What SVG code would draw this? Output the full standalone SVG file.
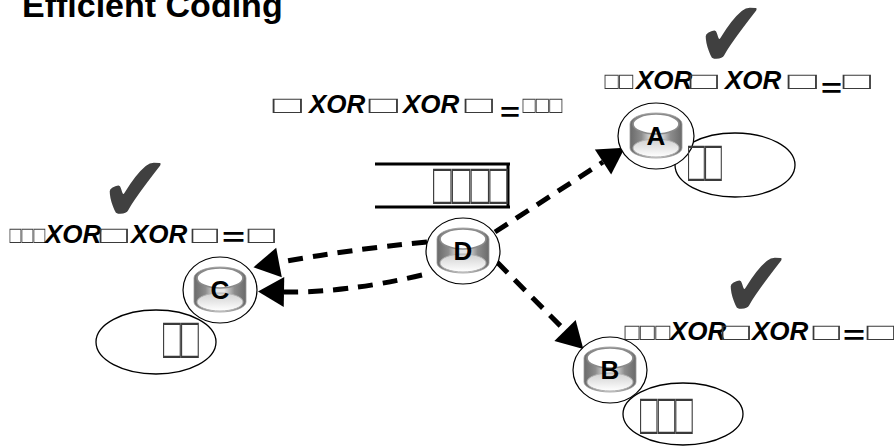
<svg xmlns="http://www.w3.org/2000/svg" width="894" height="446" viewBox="0 0 894 446">
<style>
.title{font-family:"Liberation Sans",Arial,sans-serif;font-weight:bold;font-size:34px;fill:#000}
.xor{font-family:"Liberation Sans",Arial,sans-serif;font-weight:bold;font-style:italic;font-size:26px;fill:#000}
.eq{font-family:"Liberation Sans",Arial,sans-serif;font-weight:bold;font-size:26px;fill:#000}
.tofu{font-family:"DejaVu Sans",sans-serif;font-weight:200;font-size:24px;fill:#3a3a3a;filter:url(#nf)}
.tall{font-family:"DejaVu Sans",sans-serif;font-weight:200;font-size:59px;fill:#3a3a3a;filter:url(#nf)}
.chk{font-family:"DejaVu Sans",sans-serif;font-size:84px;fill:#404040}
.lbl{font-family:"Liberation Sans",Arial,sans-serif;font-weight:bold;font-size:26px;fill:#000;text-anchor:middle}
.ring{fill:#fff;stroke:#000;stroke-width:1.2}
.oval{fill:none;stroke:#000;stroke-width:1.3}
.edge{fill:none;stroke:#000;stroke-width:5;stroke-dasharray:15 10}
.q{stroke:#000;stroke-width:3;fill:none}
</style>
<defs>
<filter id="nf" x="-0.1" y="-0.3" width="1.2" height="1.6"><feOffset dx="0" dy="0"/></filter>
<marker id="ah" markerUnits="userSpaceOnUse" markerWidth="26" markerHeight="30" viewBox="0 0 26 30" refX="0" refY="15" orient="auto" overflow="visible">
<path d="M0,0 L26,15 L0,30 z" fill="#000"/>
</marker>
<linearGradient id="gb" x1="0" y1="0" x2="1" y2="0">
<stop offset="0" stop-color="#6a6a6a"/>
<stop offset="0.22" stop-color="#8c8c8c"/>
<stop offset="0.42" stop-color="#e6e6e6"/>
<stop offset="0.58" stop-color="#e6e6e6"/>
<stop offset="0.78" stop-color="#8c8c8c"/>
<stop offset="1" stop-color="#6a6a6a"/>
</linearGradient>
<linearGradient id="gl" x1="0" y1="0" x2="0" y2="1">
<stop offset="0" stop-color="#d0d0d0"/>
<stop offset="1" stop-color="#ffffff"/>
</linearGradient>
<g id="icon">
<path d="M-26,-12 L-26,12 A26,10 0 0 0 26,12 L26,-12 A26,11 0 0 0 -26,-12 z" fill="url(#gb)" stroke="#9a9a9a" stroke-width="0.8"/>
<ellipse cx="0" cy="-12" rx="23" ry="10" fill="#fff" stroke="#8a8a8a" stroke-width="1.6"/>
<ellipse cx="0" cy="12" rx="23" ry="9" fill="url(#gl)" stroke="#b0b0b0" stroke-width="1"/>
</g>
</defs>

<text class="title" x="22" y="17">Efficient Coding</text>

<g id="equation-main">
<text class="tofu" x="272.5" y="113" textLength="30" lengthAdjust="spacingAndGlyphs">□</text>
<text class="xor" x="309" y="113">XOR</text>
<text class="tofu" x="368.5" y="113" textLength="30" lengthAdjust="spacingAndGlyphs">□</text>
<text class="xor" x="403" y="113">XOR</text>
<text class="tofu" x="464.5" y="113" textLength="29" lengthAdjust="spacingAndGlyphs">□</text>
<text class="eq" x="500" y="121" textLength="20" lengthAdjust="spacingAndGlyphs">=</text>
<text class="tofu" x="522.5" y="113" textLength="40" lengthAdjust="spacingAndGlyphs">□□□</text>
</g>

<g id="equation-A">
<text class="chk" x="696" y="67" transform="translate(0,67) scale(1,1.12) translate(0,-67)">✔</text>
<text class="tofu" x="604.5" y="89" textLength="29" lengthAdjust="spacingAndGlyphs">□□</text>
<text class="xor" x="636" y="89">XOR</text>
<text class="tofu" x="689.5" y="89" textLength="29" lengthAdjust="spacingAndGlyphs">□</text>
<text class="xor" x="725" y="89">XOR</text>
<text class="tofu" x="787.5" y="89" textLength="30" lengthAdjust="spacingAndGlyphs">□</text>
<text class="eq" x="821" y="97" textLength="21" lengthAdjust="spacingAndGlyphs">=</text>
<text class="tofu" x="842.5" y="89" textLength="29" lengthAdjust="spacingAndGlyphs">□</text>
</g>

<g id="equation-C">
<text class="chk" x="100" y="222" transform="translate(0,222) scale(1,1.12) translate(0,-222)">✔</text>
<text class="tofu" x="9.5" y="243" textLength="36" lengthAdjust="spacingAndGlyphs">□□□</text>
<text class="xor" x="45" y="243">XOR</text>
<text class="tofu" x="99.5" y="243" textLength="29" lengthAdjust="spacingAndGlyphs">□</text>
<text class="xor" x="131" y="243">XOR</text>
<text class="tofu" x="191.5" y="243" textLength="27" lengthAdjust="spacingAndGlyphs">□</text>
<text class="eq" x="222" y="246" textLength="23" lengthAdjust="spacingAndGlyphs">=</text>
<text class="tofu" x="247.5" y="243" textLength="28" lengthAdjust="spacingAndGlyphs">□</text>
</g>

<g id="equation-B">
<text class="chk" x="721" y="317" transform="translate(0,317) scale(1,1.12) translate(0,-317)">✔</text>
<text class="tofu" x="624.5" y="340" textLength="46" lengthAdjust="spacingAndGlyphs">□□□</text>
<text class="xor" x="670" y="340">XOR</text>
<text class="tofu" x="721.5" y="340" textLength="29" lengthAdjust="spacingAndGlyphs">□</text>
<text class="xor" x="752" y="340">XOR</text>
<text class="tofu" x="812.5" y="340" textLength="28" lengthAdjust="spacingAndGlyphs">□</text>
<text class="eq" x="843" y="344" textLength="22" lengthAdjust="spacingAndGlyphs">=</text>
<text class="tofu" x="866.5" y="340" textLength="29" lengthAdjust="spacingAndGlyphs">□</text>
</g>

<g id="queue">
<path class="q" d="M375,164 H510 M375,207 H510 M508,164 V207"/>
<text class="tall" x="433" y="204" textLength="75" lengthAdjust="spacingAndGlyphs">□□□□</text>
</g>

<g id="connectors">
<path class="edge" d="M495,232 L603,162" marker-end="url(#ah)"/>
<path class="edge" d="M497,262 L565,330.5" marker-end="url(#ah)"/>
<path class="edge" d="M427,242 Q345,250 279,262.5" marker-end="url(#ah)"/>
<path class="edge" d="M422,275 Q345,293 284,292" marker-end="url(#ah)"/>
</g>

<g id="store-A">
<ellipse class="oval" cx="735" cy="165" rx="60" ry="32"/>
</g>
<g id="store-C">
<ellipse class="oval" cx="156" cy="342" rx="60" ry="32"/>
</g>
<g id="store-B">
<ellipse class="oval" cx="683" cy="414" rx="60" ry="31"/>
</g>

<g id="node-A">
<ellipse class="ring" cx="656" cy="136" rx="38" ry="33"/>
<use href="#icon" x="656" y="136"/>
<text class="lbl" x="656" y="145">A</text>
</g>
<g id="node-D">
<ellipse class="ring" cx="463" cy="251" rx="37" ry="33"/>
<use href="#icon" x="463" y="251"/>
<text class="lbl" x="463" y="260">D</text>
</g>
<g id="node-C">
<ellipse class="ring" cx="220" cy="290" rx="37" ry="33"/>
<use href="#icon" x="220" y="290"/>
<text class="lbl" x="220" y="299">C</text>
</g>
<g id="node-B">
<ellipse class="ring" cx="610" cy="370" rx="37" ry="33"/>
<use href="#icon" x="610" y="370"/>
<text class="lbl" x="610" y="379">B</text>
</g>

<g id="store-labels">
<text class="tall" x="688" y="181" textLength="34" lengthAdjust="spacingAndGlyphs">□□</text>
<text class="tall" x="163" y="358" textLength="36" lengthAdjust="spacingAndGlyphs">□□</text>
<text class="tall" x="640" y="434" textLength="53" lengthAdjust="spacingAndGlyphs">□□□</text>
</g>
</svg>
